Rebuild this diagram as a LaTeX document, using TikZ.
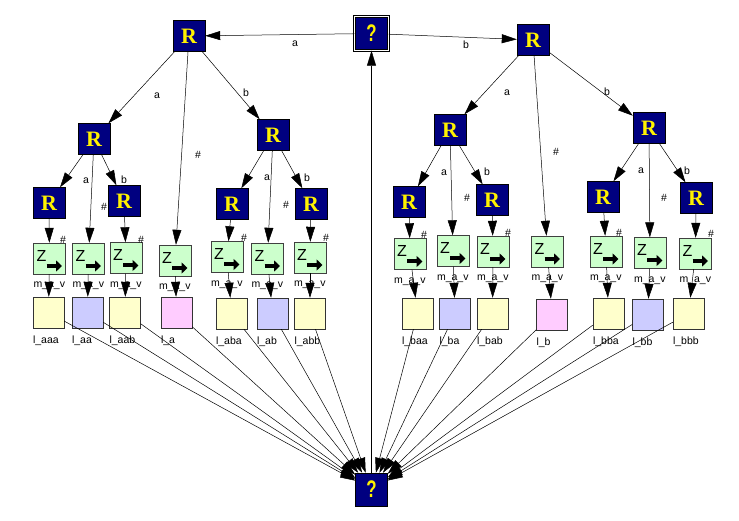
\documentclass[tikz,border=0pt]{standalone}
\usepackage{fontspec}
\setmainfont{Liberation Sans}
\newfontfamily\rfam{Liberation Serif}
\usetikzlibrary{arrows.meta,calc}
\definecolor{navyq}{RGB}{0,0,128}
\definecolor{zgreen}{RGB}{204,255,204}
\definecolor{lyel}{RGB}{255,255,204}
\definecolor{lblue}{RGB}{204,204,255}
\definecolor{lpink}{RGB}{255,204,255}
\newcommand{\zdeco}[1]{%
  \node[font=\fontsize{16}{16}\selectfont] (#1z) at ($(#1.center)+(-8,-3)$) {Z};
  \draw[line width=4pt,-{Triangle[length=6pt,width=11pt]}] ($(#1.center)+(-3,7.5)$) -- ($(#1.center)+(12.5,7.5)$);}
\begin{document}
\begin{tikzpicture}[x=1pt,y=-1pt,
  every node/.style={inner sep=0pt},
  lab/.style={font=\fontsize{10.5}{12}\selectfont},
  rbox/.style={draw=black,fill=navyq,minimum width=32pt,minimum height=31pt,text=yellow,font=\rfam\bfseries\fontsize{22}{22}\selectfont},
  qbox/.style={draw=black,fill=navyq,minimum width=32pt,minimum height=33pt,text=yellow,font=\bfseries\fontsize{24}{24}\selectfont},
  qtop/.style={qbox,minimum width=34pt,minimum height=34pt,double=white,double distance=1.4pt},
  zbox/.style={draw=black!75,fill=zgreen,minimum width=32pt,minimum height=31pt},
  lbox/.style={draw=black!80,minimum width=31pt,minimum height=31pt},
  arr/.style={draw=black,line width=0.5pt,-{Triangle[length=15pt,width=9pt]}}
]
\fill[white] (0,0) rectangle (739,521);
\useasboundingbox (0,0) rectangle (739,521);

% top and bottom ? nodes
\node[qtop] (q1) at (371.5,33.5) {\scalebox{0.7}[1]{?}};
\node[qbox] (q2) at (371.5,489.5) {\scalebox{0.7}[1]{?}};

% R nodes
\foreach \n/\x/\y in {Ra/189/36, Rb/533/40,
  Raa/94/139, Rab/273/135, Rba/450/130, Rbb/649/128,
  Raaa/49/203, Raab/124/201, Raba/232/204, Rabb/311/204,
  Rbaa/409/202, Rbab/492/200, Rbba/603/197, Rbbb/696/198}
  \node[rbox] (\n) at (\x,\y) {R};

% Z nodes
\foreach \n/\x/\y in {Zaaa/49.5/258.5, Zaa/88.5/258.5, Zaab/126/258, Za/175/260.5,
  Zaba/227/257, Zab/267.5/258.5, Zabb/310/257.5,
  Zbaa/410/254, Zba/453/251, Zbab/493/251.5, Zb/547.5/251.5,
  Zbba/606/251.5, Zbb/650/253, Zbbb/695.5/253.5}
{
  \node[zbox] (\n) at (\x,\y) {};
  \zdeco{\n}
  \node[lab,anchor=base west] (m\n) at ($(\n.south west)+(0,13.5)$) {m\_a\_v};
}

% l nodes
\foreach \n/\x/\y/\c/\t in {laaa/48.5/312.5/lyel/aaa, laa/87.5/312.5/lblue/aa, laab/125/312.5/lyel/aab, la/176.5/312.5/lpink/a,
  laba/231.5/313.5/lyel/aba, lab/272.5/313.5/lblue/ab, labb/310/313.5/lyel/abb,
  lbaa/417.5/313.5/lyel/baa, lba/455/313.5/lblue/ba, lbab/492.5/313.5/lyel/bab, lb/552/314.5/lpink/b,
  lbba/608.5/313.5/lyel/bba, lbb/648/314.5/lblue/bb, lbbb/688.5/313.5/lyel/bbb}
{
  \node[lbox,fill=\c] (\n) at (\x,\y) {};
  \node[lab,anchor=base west] (t\n) at ($(\n.south west)+(0,15)$) {l\_\t};
}

% edges
\draw[arr] (q1) -- (Ra);
\draw[arr] (q1) -- (Rb);
\draw[arr] (q2) -- (q1);
\foreach \p/\l/\m/\r in {Ra/Raa/Za/Rab, Rb/Rba/Zb/Rbb,
  Raa/Raaa/Zaa/Raab, Rab/Raba/Zab/Rabb, Rba/Rbaa/Zba/Rbab, Rbb/Rbba/Zbb/Rbbb}
{
  \draw[arr] (\p) -- (\l);
  \draw[arr] (\p) -- (\m);
  \draw[arr] (\p) -- (\r);
}
\foreach \s in {aaa,aab,aba,abb,baa,bab,bba,bbb}
  \draw[arr] (R\s) -- (Z\s);
\foreach \s in {aaa,aa,aab,a,aba,ab,abb,baa,ba,bab,b,bba,bb,bbb}
{
  \draw[arr] (Z\s) -- (l\s);
  \draw[arr] (l\s) -- (q2);
}

% edge labels
\foreach \n/\x/\y/\t in {e1/295/44/a, e2/466/45/b,
  e3/157/96/a, e4/246/93/b, e5/198/155/\#,
  e6/507/93/a, e7/607/92/b, e8/556/152/\#,
  e9/86/181/a, e10/124/180/b, e11/104/207/\#, e12/63/240/\#, e13/141/240/\#,
  e14/267/178/a, e15/307/178/b, e16/286/205/\#, e17/244/238/\#, e18/326/238/\#,
  e19/444/173/a, e20/487/172/b, e21/467/198/\#, e22/424/235/\#, e23/508/233/\#,
  e24/641/171/a, e25/687/171/b, e26/664/198/\#, e27/619/233/\#, e28/711/234/\#}
  \node[lab] (\n) at (\x,\y) {\t};
\end{tikzpicture}
\end{document}
